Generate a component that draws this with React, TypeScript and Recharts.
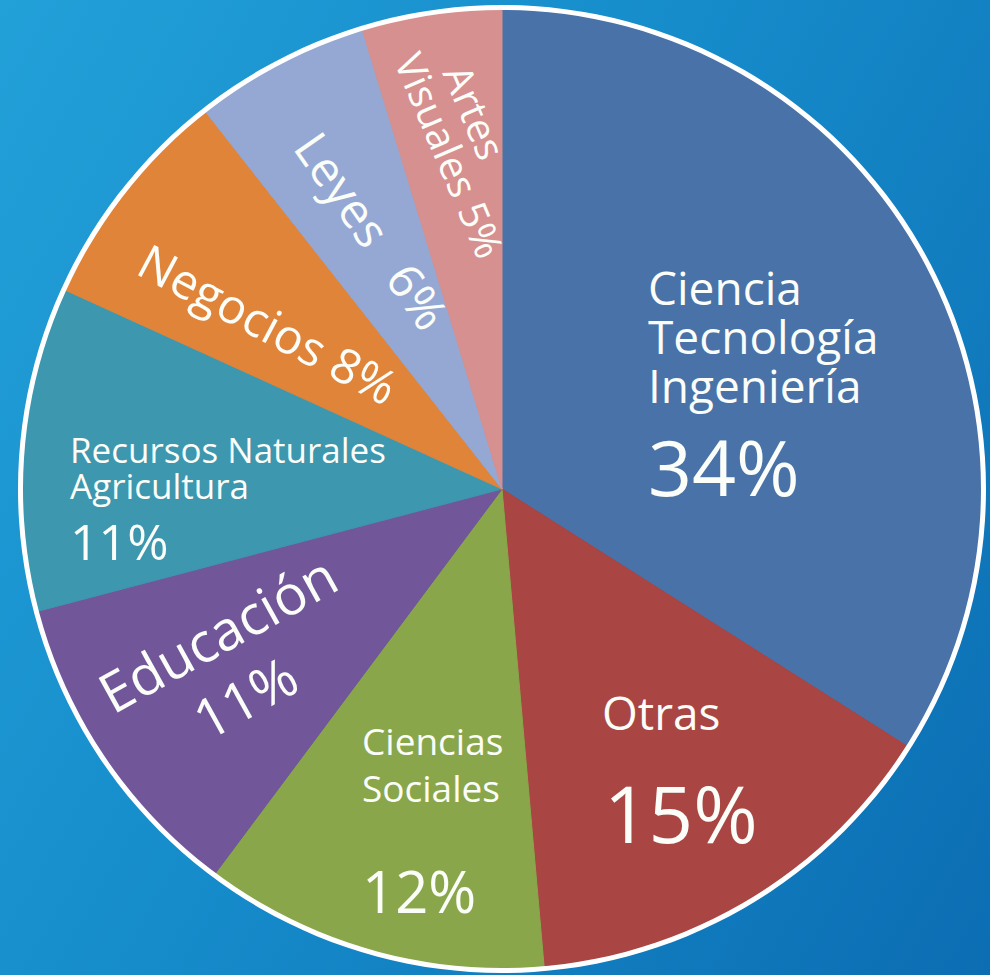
import { Pie, PieChart, Cell } from "recharts";

const categories = [
  "Ciencia Tecnología Ingeniería",
  "Otras",
  "Ciencias Sociales",
  "Educación",
  "Recursos Naturales Agricultura",
  "Negocios",
  "Leyes",
  "Artes Visuales",
];
// slice sizes as measured from the angles in the picture
const shares = [34, 14.6, 11.6, 10.7, 10.9, 7.6, 5.9, 4.7];
// percentages as printed on the slices
const percentLabels = ["34%", "15%", "12%", "11%", "11%", "8%", "6%", "5%"];
const colors = ["#4872a8", "#a94543", "#8aa64b", "#71569a", "#3d97ae", "#e0843a", "#94a8d3", "#d6908f"];

const data = categories.map((name, i) => ({ name, value: shares[i], pct: percentLabels[i] }));
const ring = [{ name: "ring", value: 1 }];

type Line = { text: string; dx: number; dy: number; size: number };
type LabelLayout = { x: number; y: number; rotate: number; lines: Line[] };

// offsets from the pie centre, in px for a 481px radius
const layouts: LabelLayout[] = [
  {
    x: 146, y: -184, rotate: 0,
    lines: [
      { text: "Ciencia", dx: 0, dy: 0, size: 46 },
      { text: "Tecnología", dx: 0, dy: 49, size: 46 },
      { text: "Ingeniería", dx: 0, dy: 98, size: 46 },
      { text: percentLabels[0], dx: 0, dy: 191, size: 77 },
    ],
  },
  {
    x: 100, y: 241, rotate: 0,
    lines: [
      { text: "Otras", dx: 0, dy: 0, size: 46 },
      { text: percentLabels[1], dx: 2, dy: 113, size: 78 },
    ],
  },
  {
    x: -140, y: 266, rotate: 0,
    lines: [
      { text: "Ciencias", dx: 0, dy: 0, size: 37 },
      { text: "Sociales", dx: 0, dy: 47, size: 37 },
      { text: percentLabels[2], dx: 0, dy: 158, size: 58 },
    ],
  },
  {
    x: -389, y: 226, rotate: -29,
    lines: [
      { text: "Educación", dx: 0, dy: 0, size: 55 },
      { text: percentLabels[3], dx: 70, dy: 69, size: 55 },
    ],
  },
  {
    x: -432, y: -26, rotate: 0,
    lines: [
      { text: "Recursos Naturales", dx: 0, dy: 0, size: 35 },
      { text: "Agricultura", dx: 0, dy: 36, size: 35 },
      { text: percentLabels[4], dx: 0, dy: 97, size: 50 },
    ],
  },
  {
    x: -368, y: -216, rotate: 28,
    lines: [{ text: `Negocios ${percentLabels[5]}`, dx: 0, dy: 0, size: 48 }],
  },
  {
    x: -210, y: -341, rotate: 55,
    lines: [
      { text: "Leyes", dx: 0, dy: 0, size: 48 },
      { text: percentLabels[6], dx: 160, dy: 0, size: 48 },
    ],
  },
  {
    x: -60, y: -416, rotate: 67,
    lines: [
      { text: "Artes", dx: 0, dy: 0, size: 40 },
      { text: `Visuales ${percentLabels[7]}`, dx: -30, dy: 40, size: 40 },
    ],
  },
];

const renderLabel = (props: any) => {
  const { cx, cy, outerRadius, index } = props;
  const layout = layouts[index];
  if (!layout) return null;
  const k = outerRadius / 481;
  return (
    <g transform={`translate(${cx + layout.x * k},${cy + layout.y * k}) rotate(${layout.rotate})`}>
      {layout.lines.map((line, i) => (
        <text
          key={i}
          x={line.dx * k}
          y={line.dy * k}
          fontSize={line.size * k}
          fill="#fbfdf8"
          fontFamily="'Open Sans', sans-serif"
          textAnchor="start"
        >
          {line.text}
        </text>
      ))}
    </g>
  );
};

export default function App() {
  return (
    <div
      style={{
        position: "absolute",
        left: 0,
        top: 0,
        width: 990,
        height: 975,
        background: "linear-gradient(120deg, #22a0d8 0%, #168ccb 45%, #0c6db3 100%)",
        overflow: "hidden",
      }}
    >
      <PieChart width={990} height={975} margin={{ top: 0, right: 0, bottom: 0, left: 0 }}>
        <Pie
          data={data}
          dataKey="value"
          nameKey="name"
          cx={502}
          cy={489}
          outerRadius={481}
          startAngle={90}
          endAngle={-270}
          label={renderLabel}
          labelLine={false}
          isAnimationActive={false}
        >
          {data.map((d, i) => (
            <Cell key={d.name} fill={colors[i]} stroke={colors[i]} strokeWidth={1} />
          ))}
        </Pie>
        <Pie
          data={ring}
          dataKey="value"
          cx={502}
          cy={489}
          innerRadius={479}
          outerRadius={484}
          startAngle={90}
          endAngle={-270}
          fill="#ffffff"
          stroke="none"
          isAnimationActive={false}
        />
      </PieChart>
    </div>
  );
}
